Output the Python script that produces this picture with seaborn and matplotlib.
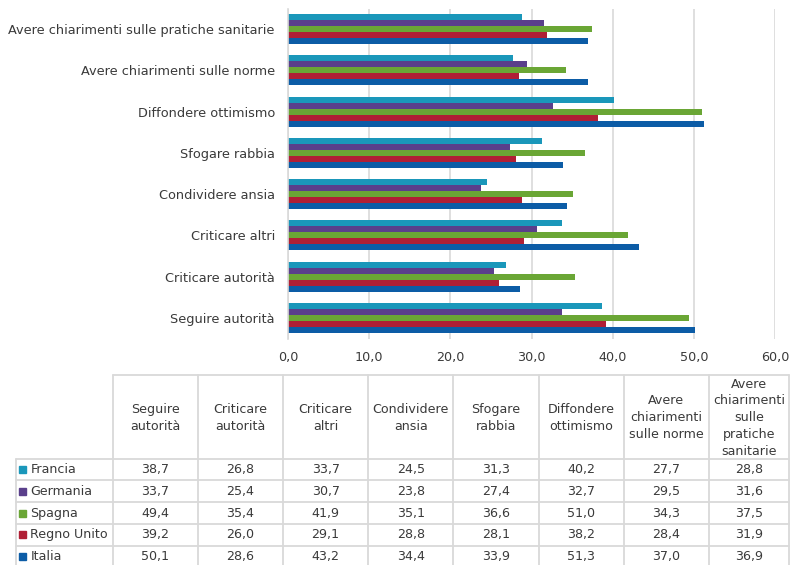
import matplotlib
matplotlib.use("Agg")
import matplotlib.pyplot as plt
import matplotlib.ticker as mticker
import seaborn as sns
import pandas as pd

# ---- data ----
categories = ["Seguire autorità", "Criticare autorità", "Criticare altri", "Condividere ansia",
              "Sfogare rabbia", "Diffondere ottimismo", "Avere chiarimenti sulle norme",
              "Avere chiarimenti sulle pratiche sanitarie"]
header_labels = ["Seguire\nautorità", "Criticare\nautorità", "Criticare\naltri", "Condividere\nansia",
                 "Sfogare\nrabbia", "Diffondere\nottimismo", "Avere\nchiarimenti\nsulle norme",
                 "Avere\nchiarimenti\nsulle\npratiche\nsanitarie"]
countries = ["Francia", "Germania", "Spagna", "Regno Unito", "Italia"]
francia = [38.7, 26.8, 33.7, 24.5, 31.3, 40.2, 27.7, 28.8]
germania = [33.7, 25.4, 30.7, 23.8, 27.4, 32.7, 29.5, 31.6]
spagna = [49.4, 35.4, 41.9, 35.1, 36.6, 51.0, 34.3, 37.5]
regno_unito = [39.2, 26.0, 29.1, 28.8, 28.1, 38.2, 28.4, 31.9]
italia = [50.1, 28.6, 43.2, 34.4, 33.9, 51.3, 37.0, 36.9]
series = [francia, germania, spagna, regno_unito, italia]
colors = ["#1a97ba", "#5a3f8b", "#6aa635", "#b01f35", "#0c5ca6"]
x_ticks = [0, 10, 20, 30, 40, 50, 60]

rows = []
for c, vals in zip(countries, series):
    for cat, v in zip(categories, vals):
        rows.append({"cat": cat, "country": c, "val": v})
df = pd.DataFrame(rows)

sns.set_theme(style="white")
plt.rcParams["font.family"] = ["DejaVu Sans"]
TXT = "#3a3a3a"
GRID = "#d9d9d9"

W, H = 791, 565
fig = plt.figure(figsize=(W / 100, H / 100), dpi=100)

# main chart axes (pixel geometry)
l, r, t, b = 288, 775, 8.5, 338.5
ax = fig.add_axes([l / W, 1 - b / H, (r - l) / W, (b - t) / H])
order = categories[::-1]
sns.barplot(data=df, y="cat", x="val", hue="country", order=order, hue_order=countries,
            palette=colors, orient="h", width=0.73, ax=ax, legend=False,
            saturation=1, linewidth=0)
ax.set_xlim(0, 60)
ax.set_xticks(x_ticks)
ax.xaxis.set_major_formatter(mticker.FuncFormatter(lambda v, p: f"{v:.1f}".replace(".", ",")))
ax.grid(axis="x", color=GRID, linewidth=1.2)
ax.set_axisbelow(True)
for s in ["top", "right", "bottom"]:
    ax.spines[s].set_visible(False)
ax.spines["left"].set_color(GRID)
ax.spines["left"].set_linewidth(1.2)
ax.tick_params(axis="both", length=0, colors=TXT)
ax.tick_params(axis="y", labelsize=9.3, pad=9.5)
ax.tick_params(axis="x", labelsize=9.2, pad=9)
ax.set_xlabel("")
ax.set_ylabel("")

# ---- data table below ----
tx = fig.add_axes([0, 0, 1, 1])
tx.set_xlim(0, W)
tx.set_ylim(H, 0)
tx.axis("off")
col_x = [15.5, 112.5, 197.8, 283, 368.2, 453.4, 538.6, 623.8, 709, 789]
top_y, head_y = 375, 458.5
row_h = 21.8
row_y = [head_y + i * row_h for i in range(6)]
lw = 1.3
# horizontal lines
tx.plot([col_x[1], col_x[-1]], [top_y, top_y], color=GRID, lw=lw)
for y in row_y[:5]:
    tx.plot([col_x[0], col_x[-1]], [y, y], color=GRID, lw=lw)
# vertical lines
tx.plot([col_x[0], col_x[0]], [head_y, H], color=GRID, lw=lw)
for x in col_x[1:]:
    tx.plot([x, x], [top_y, H], color=GRID, lw=lw)
# header
for i, lab in enumerate(header_labels):
    cx = (col_x[i + 1] + col_x[i + 2]) / 2
    tx.text(cx, (top_y + head_y) / 2 + 1, lab, ha="center", va="center", fontsize=9.1,
            color=TXT, linespacing=1.38)
# rows
for j, (c, vals, col) in enumerate(zip(countries, series, colors)):
    cy = row_y[j] + row_h / 2
    tx.add_patch(plt.Rectangle((18.5, cy - 3.5), 7, 7, color=col))
    tx.text(30.5, cy, c, ha="left", va="center", fontsize=9.1, color=TXT)
    for i, v in enumerate(vals):
        cx = (col_x[i + 1] + col_x[i + 2]) / 2
        tx.text(cx, cy, f"{v:.1f}".replace(".", ","), ha="center", va="center",
                fontsize=9.1, color=TXT)

fig.savefig("out.png", dpi=100)
